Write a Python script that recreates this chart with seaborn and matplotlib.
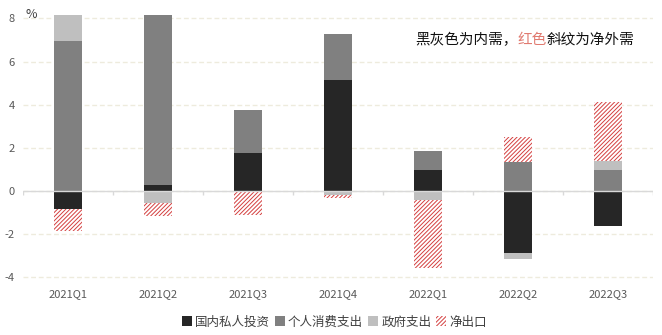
import numpy as np
import pandas as pd
import matplotlib
matplotlib.use('Agg')
import matplotlib.pyplot as plt
import seaborn as sns
from matplotlib.patches import Patch

quarters = ['2021Q1', '2021Q2', '2021Q3', '2021Q4', '2022Q1', '2022Q2', '2022Q3']
invest = [-0.83, 0.28, 1.76, 5.14, 0.97, -2.87, -1.60]
consume = [6.94, 7.87, 1.99, 2.13, 0.88, 1.34, 0.97]
gov = [1.20, -0.54, 0.00, -0.17, -0.40, -0.26, 0.42]
net_export = [-1.00, -0.60, -1.10, -0.14, -3.15, 1.16, 2.73]

series_names = ['国内私人投资', '个人消费支出', '政府支出', '净出口']
series_values = [invest, consume, gov, net_export]
fill_colors = ['#262626', '#808080', '#bfbfbf', '#ffffff']
hatch_red = '#d43f3f'
hatch_pat = '////////'
y_ticks = [-4, -2, 0, 2, 4, 6, 8]

sns.set_style('white')
plt.rcParams['font.family'] = ['Noto Sans CJK SC', 'DejaVu Sans']
plt.rcParams['hatch.linewidth'] = 0.7

W, H = 662, 335
fig = plt.figure(figsize=(W / 100, H / 100), dpi=100)
ax = fig.add_axes([23 / W, 0.159, 630 / W, 0.812])

n = len(quarters)
pos = np.zeros(n)
neg = np.zeros(n)
for name, vals, col in zip(series_names, series_values, fill_colors):
    v = np.array(vals, dtype=float)
    bottom = np.where(v >= 0, pos, neg)
    df = pd.DataFrame({'quarter': quarters, 'value': v})
    kw = dict(color=col, linewidth=0, saturation=1, zorder=3)
    if name == '净出口':
        kw.update(hatch=hatch_pat, edgecolor=hatch_red)
    sns.barplot(data=df, x='quarter', y='value', bottom=bottom, width=0.31,
                ax=ax, errorbar=None, **kw)
    pos += np.where(v > 0, v, 0)
    neg += np.where(v < 0, v, 0)

ax.set_xlim(-0.5, n - 0.5)
ax.set_ylim(-4.2, 8.4)
ax.set_yticks(y_ticks)
ax.set_yticklabels([str(t) for t in y_ticks])
ax.set_xlabel('')
ax.set_ylabel('')
for s in ax.spines.values():
    s.set_visible(False)
ax.yaxis.grid(True, color='#eeebdd', linestyle=(0, (3.5, 2)), lw=1)
ax.set_axisbelow(True)
ax.tick_params(axis='y', length=0, pad=6, labelsize=8, labelcolor='#595959')
ax.tick_params(axis='x', length=0, pad=5, labelsize=8, labelcolor='#595959')

# zero axis line with category boundary ticks
ax.axhline(0, color='#d9d9d9', lw=1, zorder=5)
ax.vlines(np.arange(n + 1) - 0.5, -0.18, 0, color='#d9d9d9', lw=1, zorder=5)

fig.text(25 / W, 1 - 14 / H, '%', fontsize=9, color='#404040', va='center', ha='left')

fs = 10.5
em = fs * 100 / 72
x0 = 415
yc = 1 - 40 / H
fig.text(x0 / W, yc, '黑灰色为内需，', fontsize=fs, color='#111111', va='center', ha='left')
fig.text((x0 + 7 * em) / W, yc, '红色', fontsize=fs, color='#e07a70', va='center', ha='left')
fig.text((x0 + 9 * em) / W, yc, '斜纹为净外需', fontsize=fs, color='#111111', va='center', ha='left')

handles = []
for name, col in zip(series_names, fill_colors):
    if name == '净出口':
        handles.append(Patch(facecolor='white', edgecolor=hatch_red, hatch=hatch_pat, linewidth=0, label=name))
    else:
        handles.append(Patch(facecolor=col, linewidth=0, label=name))
fig.legend(handles=handles, loc='center', bbox_to_anchor=(0.505, 1 - 322 / H), ncol=4,
           frameon=False, fontsize=9, handlelength=0.8, handleheight=0.8,
           handletextpad=0.25, columnspacing=0.4, labelcolor='#404040')

fig.savefig('out.png', dpi=100)
